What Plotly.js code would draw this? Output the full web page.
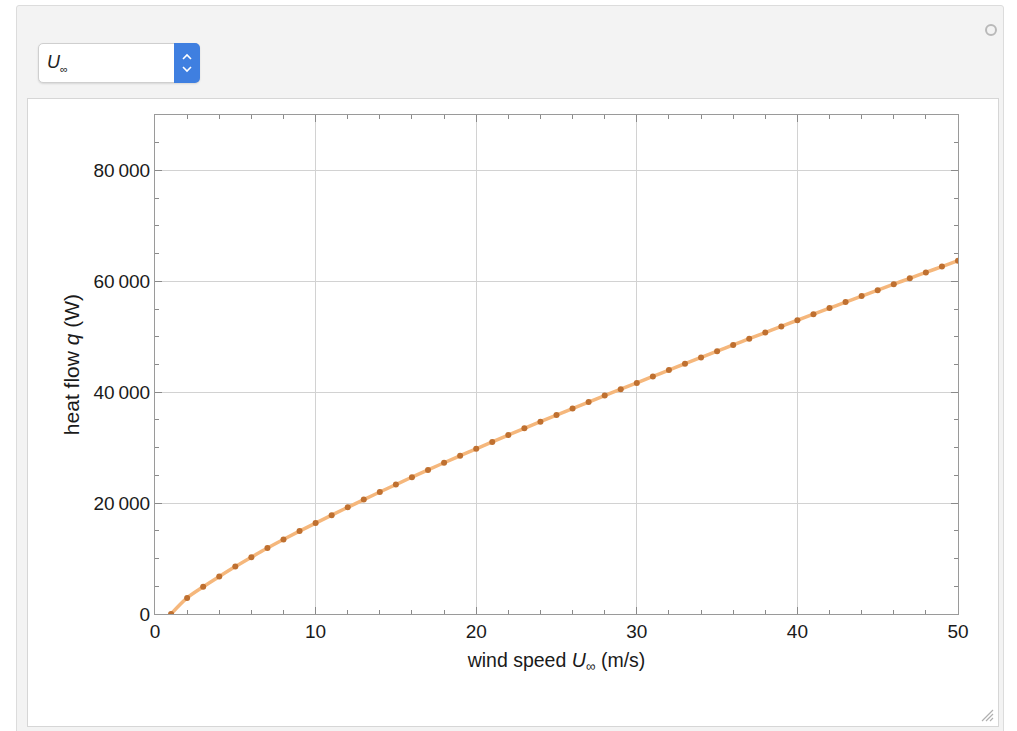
<!DOCTYPE html>
<html>
<head>
<meta charset="utf-8">
<script src="https://cdn.plot.ly/plotly-3.0.1.min.js"></script>
<style>
  html, body { margin:0; padding:0; width:1017px; height:731px; background:#ffffff; overflow:hidden; font-family:"Liberation Sans", Arial, sans-serif; }
  #outer { position:absolute; left:16px; top:5px; width:986px; height:740px; background:#f3f3f3; border:1px solid #dcdcdc; border-radius:3px; }
  #inner { position:absolute; left:27px; top:98px; width:970px; height:627px; background:#ffffff; border:1px solid #d6d6d6; }
  #dd { position:absolute; left:38px; top:43px; width:160px; height:38px; background:#ffffff; border:1px solid #cfcfcf; border-radius:5px; box-shadow:0 1px 2px rgba(0,0,0,0.12); }
  #ddtxt { position:absolute; left:8px; top:8px; font-size:18px; font-style:italic; color:#222; }
  #ddtxt sub { font-style:normal; font-size:11px; }
  #spin { position:absolute; right:-1px; top:-1px; width:26px; height:40px; background:#3f7fe0; border-radius:0 5px 5px 0; }
  #gear { position:absolute; left:985px; top:24px; width:8px; height:8px; border:2px solid #b9b9b9; border-radius:50%; }
  #grip { position:absolute; left:978px; top:706px; width:16px; height:16px; }
  #chart { position:absolute; left:0; top:0; width:1017px; height:731px; }
</style>
</head>
<body>
<div id="outer"></div>
<div id="inner"></div>
<div id="dd"><span id="ddtxt">U<sub>∞</sub></span><div id="spin"><svg width="26" height="40" viewBox="0 0 26 40"><path d="M9 16 L13 12 L17 16 M9 24 L13 28 L17 24" stroke="#ffffff" stroke-width="1.6" fill="none"/></svg></div></div>
<div id="gear"></div>
<svg id="grip" viewBox="0 0 16 16"><path d="M4 15 L15 4 M8 15 L15 8 M12 15 L15 12" stroke="#b0b0b0" stroke-width="1.2"/></svg>
<div id="chart"></div>
<script>
// wind speed U (m/s)
const windSpeed = [1,2,3,4,5,6,7,8,9,10,11,12,13,14,15,16,17,18,19,20,21,22,23,24,25,26,27,28,29,30,31,32,33,34,35,36,37,38,39,40,41,42,43,44,45,46,47,48,49,50];
// heat flow q (W)
const heatFlow = [0,2900,4900,6750,8550,10250,11900,13450,14950,16400,17830,19240,20630,22000,23350,24680,25990,27280,28550,29800,31040,32270,33490,34690,35880,37060,38230,39390,40540,41680,42840,43990,45135,46275,47405,48530,49650,50765,51875,52980,54080,55170,56255,57335,58410,59480,60545,61605,62660,63710];
const xTickVals = [0,10,20,30,40,50];
const xTickText = ["0","10","20","30","40","50"];
const yTickVals = [0,20000,40000,60000,80000];
const yTickText = ["0","20\u2009000","40\u2009000","60\u2009000","80\u2009000"];

const traces = [
  {x: windSpeed, y: heatFlow, type:'scatter', mode:'lines', line:{color:'#f5b77c', width:3.5, shape:'spline'}, hoverinfo:'skip', cliponaxis:true},
  {x: windSpeed, y: heatFlow, type:'scatter', mode:'markers', marker:{color:'#bf7030', size:6}, cliponaxis:true}
];

const fontFam = '"Liberation Sans", Arial, sans-serif';
const axisCommon = {
  showline:true, linecolor:'#9a9a9a', linewidth:1, mirror:'allticks',
  ticks:'inside', ticklen:7, tickwidth:1, tickcolor:'#8a8a8a',
  gridcolor:'#d2d2d2', gridwidth:1, zeroline:false,
  tickfont:{family:fontFam, size:19, color:'#1a1a1a'},
  fixedrange:true
};

const layout = {
  width:1017, height:731,
  margin:{l:155, r:59, t:115, b:117, autoexpand:false},
  paper_bgcolor:'rgba(0,0,0,0)', plot_bgcolor:'#ffffff',
  showlegend:false,
  xaxis: Object.assign({}, axisCommon, {
    range:[0,50], tickmode:'array', tickvals:xTickVals, ticktext:xTickText,
    minor:{dtick:2, ticks:'inside', ticklen:4, tickcolor:'#8a8a8a', showgrid:false},
    title:{text:'wind speed <i>U</i><sub>∞</sub> (m/s)', font:{family:fontFam, size:19.5, color:'#1a1a1a'}, standoff:12}
  }),
  yaxis: Object.assign({}, axisCommon, {
    range:[0,90000], tickmode:'array', tickvals:yTickVals, ticktext:yTickText,
    minor:{dtick:5000, ticks:'inside', ticklen:4, tickcolor:'#8a8a8a', showgrid:false},
    title:{text:'heat flow <i>q</i> (W)', font:{family:fontFam, size:21, color:'#1a1a1a'}, standoff:8}
  })
};
Plotly.newPlot('chart', traces, layout, {displayModeBar:false, staticPlot:true});
</script>
</body>
</html>
